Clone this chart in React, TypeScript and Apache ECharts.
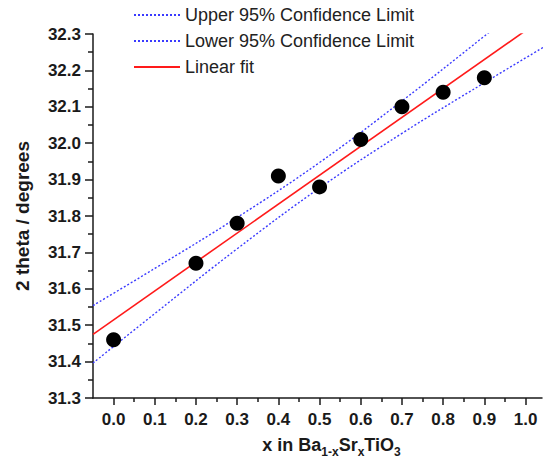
import React, { useEffect, useRef } from "react";
import * as echarts from "echarts";

// Measured points
const pointX = [0.0, 0.2, 0.3, 0.4, 0.5, 0.6, 0.7, 0.8, 0.9];
const pointY = [31.46, 31.67, 31.78, 31.91, 31.88, 32.01, 32.1, 32.14, 32.18];

// Linear fit (read endpoints)
const fitX = [-0.05, 1.05];
const fitY = [31.475, 32.349];

// 95% confidence limits
const ciX = [-0.05, 0.1, 0.3, 0.5, 0.7, 0.9, 1.05];
const upperY = [31.554, 31.656, 31.796, 31.947, 32.116, 32.294, 32.43];
const lowerY = [31.396, 31.532, 31.71, 31.877, 32.027, 32.166, 32.268];

// Tick values
const xMajorTicks = [0, 0.1, 0.2, 0.3, 0.4, 0.5, 0.6, 0.7, 0.8, 0.9, 1.0];
const xMinorTicks = [0.05, 0.15, 0.25, 0.35, 0.45, 0.55, 0.65, 0.75, 0.85, 0.95];

const legendNames = ["Upper 95% Confidence Limit", "Lower 95% Confidence Limit", "Linear fit"];

const FONT = "'Liberation Sans', Arial, sans-serif";

export default function App() {
  const ref = useRef<HTMLDivElement>(null);
  useEffect(() => {
    if (!ref.current) return;
    const chart = echarts.init(ref.current, undefined, { renderer: "svg" });
    const zip = (xs: number[], ys: number[]) => xs.map((x, i) => [x, ys[i]]);
    const axisColor = "#1a1a1a";
    chart.setOption({
      animation: false,
      backgroundColor: "#ffffff",
      textStyle: { fontFamily: FONT },
      grid: { left: 93, right: 1, top: 34, bottom: 61, outerBoundsMode: "none", containLabel: false },
      legend: {
        data: legendNames,
        orient: "vertical",
        left: 128,
        top: 1,
        itemWidth: 46,
        itemHeight: 12,
        itemGap: 8,
        itemStyle: { opacity: 0 },
        textStyle: { fontFamily: FONT, fontSize: 18, color: "#222" },
      },
      xAxis: [
        {
          type: "value",
          min: -0.05,
          max: 1.04,
          splitLine: { show: false },
          axisLine: { show: true, onZero: false, lineStyle: { color: axisColor, width: 1.5 } },
          axisTick: { show: true, length: 7, customValues: xMajorTicks, lineStyle: { color: axisColor, width: 1.5 } },
          axisLabel: {
            customValues: xMajorTicks,
            formatter: (v: number) => v.toFixed(1),
            fontFamily: FONT,
            fontSize: 17,
            fontWeight: "bold",
            color: "#1a1a1a",
            margin: 13,
          },
          name: "{m|x in Ba}{s|1-x}{m|Sr}{s|x}{m|TiO}{s|3}",
          nameLocation: "middle",
          nameGap: 38,
          nameTextStyle: {
            padding: [0, 0, 0, 28],
            rich: {
              m: { fontFamily: FONT, fontSize: 18, fontWeight: "bold", color: "#1a1a1a", lineHeight: 20, verticalAlign: "top" },
              s: { fontFamily: FONT, fontSize: 12, fontWeight: "bold", color: "#1a1a1a", lineHeight: 12, verticalAlign: "top", padding: [10, 0, 0, 0] },
            },
          },
        },
        {
          type: "value",
          min: -0.05,
          max: 1.04,
          position: "bottom",
          splitLine: { show: false },
          axisLine: { show: false, onZero: false },
          axisTick: { show: true, length: 4, customValues: xMinorTicks, lineStyle: { color: axisColor, width: 1.5 } },
          axisLabel: { show: false },
        },
      ],
      yAxis: {
        type: "value",
        min: 31.3,
        max: 32.3,
        interval: 0.1,
        splitLine: { show: false },
        axisLine: { show: true, onZero: false, lineStyle: { color: axisColor, width: 1.5 } },
        axisTick: { show: true, length: 8, lineStyle: { color: axisColor, width: 1.5 } },
        minorTick: { show: true, splitNumber: 2, length: 5, lineStyle: { color: axisColor, width: 1.5 } },
        axisLabel: {
          formatter: (v: number) => v.toFixed(1),
          fontFamily: FONT,
          fontSize: 17,
          fontWeight: "bold",
          color: "#1a1a1a",
          margin: 12,
        },
        name: "2 theta / degrees",
        nameLocation: "middle",
        nameRotate: 90,
        nameGap: 61,
        nameTextStyle: { fontFamily: FONT, fontSize: 19, fontWeight: "bold", color: "#1a1a1a" },
      },
      series: [
        {
          name: legendNames[0],
          type: "line",
          data: zip(ciX, upperY),
          smooth: 0.4,
          symbol: "none",
          clip: true,
          lineStyle: { color: "#3a3aff", width: 1.4, type: [2, 2] },
          itemStyle: { color: "#3a3aff" },
          z: 2,
        },
        {
          name: legendNames[1],
          type: "line",
          data: zip(ciX, lowerY),
          smooth: 0.4,
          symbol: "none",
          clip: true,
          lineStyle: { color: "#3a3aff", width: 1.4, type: [2, 2] },
          itemStyle: { color: "#3a3aff" },
          z: 2,
        },
        {
          name: legendNames[2],
          type: "line",
          data: zip(fitX, fitY),
          symbol: "none",
          clip: true,
          lineStyle: { color: "#ff1a1a", width: 1.6 },
          itemStyle: { color: "#ff1a1a" },
          z: 3,
        },
        {
          name: "Data",
          type: "scatter",
          data: zip(pointX, pointY),
          symbol: "circle",
          symbolSize: 15,
          itemStyle: { color: "#000000", opacity: 1 },
          z: 4,
        },
      ],
    });
    return () => chart.dispose();
  }, []);
  return (
    <div
      ref={ref}
      style={{ position: "fixed", left: 0, top: 0, width: 543, height: 459, background: "#fff" }}
    />
  );
}
